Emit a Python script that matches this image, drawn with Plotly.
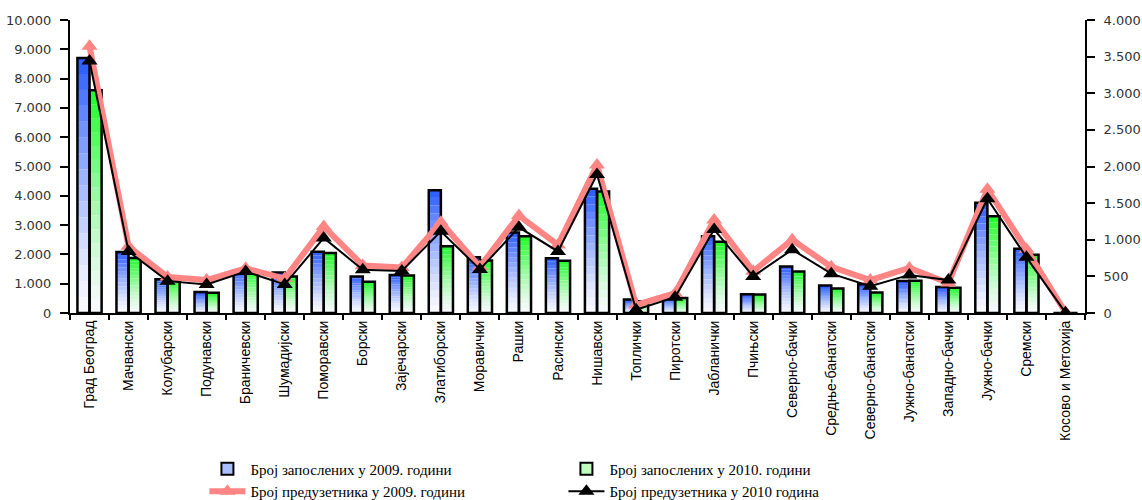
import plotly.graph_objects as go

regions = ["Град Београд", "Мачвански", "Колубарски", "Подунавски", "Браничевски",
           "Шумадијски", "Поморавски", "Борски", "Зајечарски", "Златиборски",
           "Моравички", "Рашки", "Расински", "Нишавски", "Топлички", "Пиротски",
           "Јабланички", "Пчињски", "Северно-бачки", "Средње-банатски",
           "Северно-банатски", "Јужно-банатски", "Западно-бачки", "Јужно-бачки",
           "Сремски", "Косово и Метохија"]

emp_2009 = [8700, 2080, 1150, 720, 1440, 1380, 2090, 1250, 1300, 4190, 1900, 2750, 1870,
            4240, 460, 510, 2620, 640, 1590, 940, 980, 1090, 890, 3760, 2190, 0]
emp_2010 = [7600, 1880, 1100, 690, 1400, 1250, 2050, 1070, 1280, 2280, 1790, 2620, 1780,
            4150, 400, 510, 2430, 630, 1420, 840, 700, 1100, 860, 3300, 1990, 0]

ent_2009 = [3640, 910, 490, 450, 610, 470, 1180, 650, 620, 1240, 630, 1330, 930,
            2020, 110, 270, 1270, 570, 1000, 630, 450, 615, 410, 1690, 870, 10]
ent_2010 = [3440, 840, 435, 390, 565, 390, 1025, 590, 575, 1115, 595, 1170, 840,
            1890, 45, 215, 1140, 500, 865, 537, 365, 520, 450, 1560, 760, 5]

left_ticks = [0, 1000, 2000, 3000, 4000, 5000, 6000, 7000, 8000, 9000, 10000]
right_ticks = [0, 500, 1000, 1500, 2000, 2500, 3000, 3500, 4000]

names = ["Број запослених у 2009. години", "Број запослених у 2010. години",
         "Број предузетника у 2009. години", "Број предузетника у 2010 година"]

N_SEG = 16


def mix(top, t):
    # t = 0 -> near white (bottom), t = 1 -> top colour
    base = (250, 251, 255)
    return "rgb(%d,%d,%d)" % tuple(int(base[i] + (top[i] - base[i]) * t) for i in range(3))


fig = go.Figure()

bar_specs = [(emp_2009, "g09", (40, 90, 255), names[0], "rgb(170,190,255)"),
             (emp_2010, "g10", (30, 250, 40), names[1], "rgb(190,255,190)")]

for vals, grp, top, nm, legcol in bar_specs:
    for k in range(N_SEG):
        t = (k + 0.5) / N_SEG
        fig.add_trace(go.Bar(
            x=regions, y=[v / N_SEG for v in vals], base=[v * k / N_SEG for v in vals],
            offsetgroup=grp, marker=dict(color=mix(top, t ** 1.3), line=dict(width=0)),
            showlegend=False, hoverinfo="skip"))

for vals, grp, top, nm, legcol in bar_specs:
    fig.add_trace(go.Bar(
        x=regions, y=vals, offsetgroup=grp, name=nm,
        marker=dict(color="rgba(0,0,0,0)", line=dict(color="black", width=2.5)),
        showlegend=False))

for vals, grp, top, nm, legcol in bar_specs:
    fig.add_trace(go.Bar(
        x=[None], y=[None], offsetgroup=grp, name=nm,
        marker=dict(color=legcol, line=dict(color="black", width=2)),
        showlegend=True, legendrank=1 if grp == "g09" else 2))

fig.add_trace(go.Scatter(
    x=regions, y=ent_2009, yaxis="y2", name=names[2], mode="lines+markers",
    line=dict(color="#ff8585", width=6),
    marker=dict(symbol="triangle-up", size=14, color="#ff8585"), legendrank=3))
fig.add_trace(go.Scatter(
    x=regions, y=ent_2010, yaxis="y2", name=names[3], mode="lines+markers",
    line=dict(color="black", width=2),
    marker=dict(symbol="triangle-up", size=14, color="black"), legendrank=4))

fig.update_layout(
    width=1142, height=500,
    margin=dict(l=70, r=57, t=20, b=187, autoexpand=False),
    paper_bgcolor="white", plot_bgcolor="white",
    barmode="group", bargap=0.38, bargroupgap=0,
    separators=",.",
    showlegend=True,
    legend=dict(orientation="h", xref="container", yref="container",
                x=0.179, xanchor="left", y=0.095, yanchor="top",
                entrywidth=308, entrywidthmode="pixels", traceorder="normal",
                font=dict(family="Liberation Serif", size=15, color="black"),
                tracegroupgap=0, itemwidth=36),
    xaxis=dict(
        showline=True, linecolor="black", linewidth=2, mirror=False,
        ticks="outside", tickson="boundaries", ticklen=5, tickcolor="black", tickwidth=2,
        tickangle=-90, tickfont=dict(family="Liberation Sans", size=14, color="black"),
        showgrid=False, range=[-0.5, 25.5], zeroline=False, automargin=False),
    yaxis=dict(
        range=[0, 10000], tickvals=left_ticks, tickformat=",",
        showline=True, linecolor="black", linewidth=2,
        ticks="outside", ticklen=8, tickcolor="black", tickwidth=2,
        ticklabelstandoff=6, automargin=False,
        tickfont=dict(family="DejaVu Sans", size=13, color="#333333"),
        showgrid=False, zeroline=False),
    yaxis2=dict(
        range=[0, 4000], tickvals=right_ticks, tickformat=",",
        overlaying="y", side="right",
        showline=True, linecolor="black", linewidth=2,
        ticks="outside", ticklen=8, tickcolor="black", tickwidth=2,
        ticklabelstandoff=6, automargin=False,
        tickfont=dict(family="DejaVu Sans", size=13, color="#333333"),
        showgrid=False, zeroline=False),
)

fig.write_html("out.html", config={"displayModeBar": False},
               post_script="document.body.style.margin='0';document.body.style.overflow='hidden';")
